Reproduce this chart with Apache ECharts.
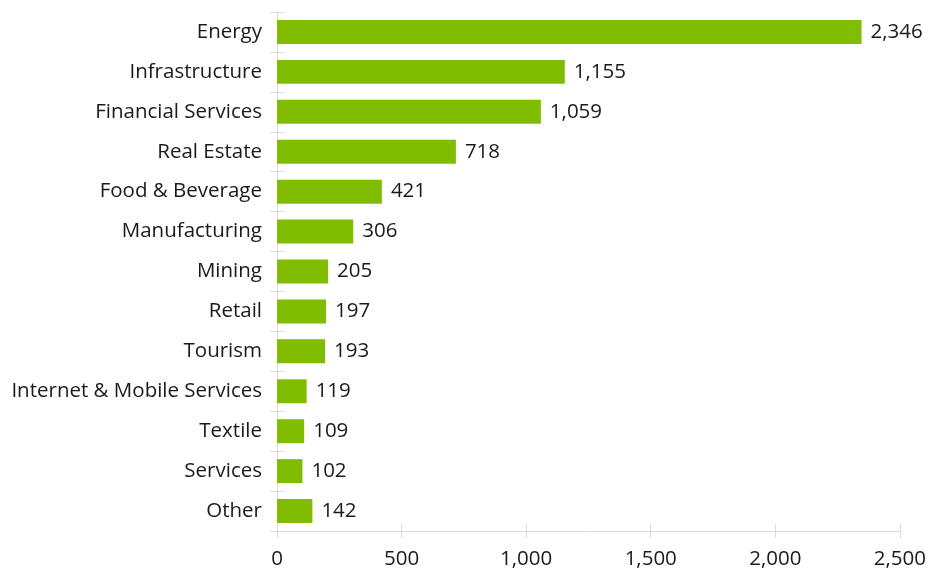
<!DOCTYPE html>
<html>
<head>
<meta charset="utf-8">
<script src="https://cdn.jsdelivr.net/npm/echarts@6/dist/echarts.min.js"></script>
<style>
  html, body { margin: 0; padding: 0; background: #fff; }
  #chart { width: 929px; height: 570px; }
</style>
</head>
<body>
<div id="chart"></div>
<script>
// Sectors, listed top to bottom
const sectors = [
  'Energy', 'Infrastructure', 'Financial Services', 'Real Estate',
  'Food & Beverage', 'Manufacturing', 'Mining', 'Retail', 'Tourism',
  'Internet & Mobile Services', 'Textile', 'Services', 'Other'
];
const amounts = [2346, 1155, 1059, 718, 421, 306, 205, 197, 193, 119, 109, 102, 142];
const xTicks = [0, 500, 1000, 1500, 2000, 2500];

const FONT = '"Open Sans", "Noto Sans", sans-serif';
const FONT_SIZE = 20.5;
const TEXT = '#1a1a1a';
const LINE = '#dcdcdc';
const BAR = '#80bc00';

const chart = echarts.init(document.getElementById('chart'), null, { renderer: 'canvas' });

const valueAxisBase = {
  type: 'value',
  min: xTicks[0],
  max: xTicks[xTicks.length - 1],
  interval: xTicks[1] - xTicks[0],
  position: 'bottom',
  splitLine: { show: false }
};
const catAxisBase = {
  type: 'category',
  data: sectors,
  inverse: true,
  position: 'left',
  boundaryGap: true,
  splitLine: { show: false }
};

chart.setOption({
  animation: false,
  grid: { left: 277, right: 27, top: 12, bottom: 39, containLabel: false },
  xAxis: [
    Object.assign({}, valueAxisBase, {
      axisLine: { show: true, lineStyle: { color: LINE, width: 1 } },
      axisTick: { show: true, inside: false, length: 7, lineStyle: { color: LINE } },
      axisLabel: {
        color: TEXT, fontFamily: FONT, fontSize: FONT_SIZE, margin: 18,
        formatter: v => v.toLocaleString('en-US')
      }
    }),
    Object.assign({}, valueAxisBase, {
      axisLine: { show: false },
      axisTick: { show: true, inside: true, length: 7, lineStyle: { color: LINE } },
      axisLabel: { show: false }
    })
  ],
  yAxis: [
    Object.assign({}, catAxisBase, {
      axisLine: { show: true, lineStyle: { color: LINE, width: 1 } },
      axisTick: { show: true, inside: false, length: 7, lineStyle: { color: LINE } },
      axisLabel: { color: TEXT, fontFamily: FONT, fontSize: FONT_SIZE, margin: 15 }
    }),
    Object.assign({}, catAxisBase, {
      axisLine: { show: false },
      axisTick: { show: true, inside: true, length: 7, lineStyle: { color: LINE } },
      axisLabel: { show: false }
    })
  ],
  series: [{
    type: 'bar',
    xAxisIndex: 0,
    yAxisIndex: 0,
    data: amounts,
    barCategoryGap: '40%',
    itemStyle: { color: BAR },
    label: {
      show: true,
      position: 'right',
      distance: 9,
      color: TEXT,
      fontFamily: FONT,
      fontSize: FONT_SIZE,
      formatter: p => p.value.toLocaleString('en-US')
    }
  }]
});
</script>
</body>
</html>
